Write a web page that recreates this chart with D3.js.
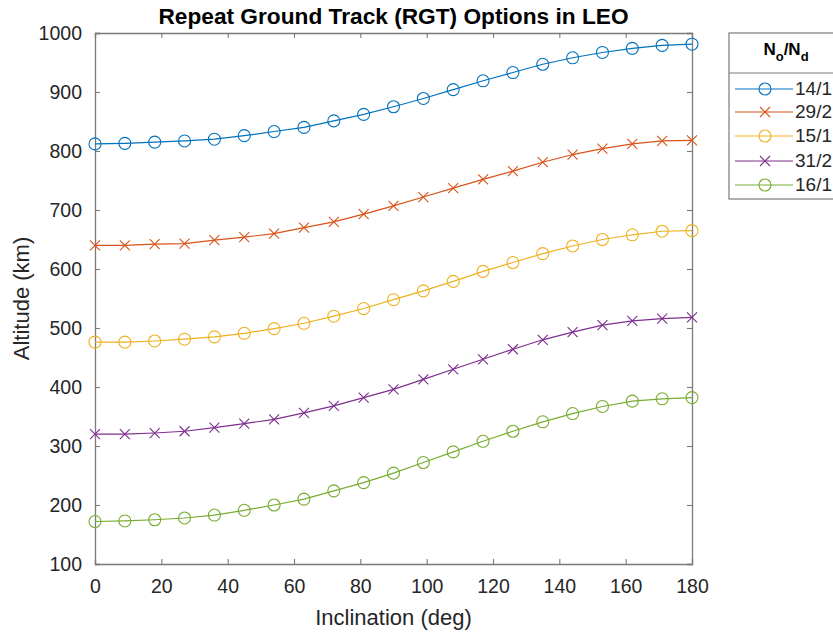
<!DOCTYPE html>
<html>
<head>
<meta charset="utf-8">
<script src="https://cdn.jsdelivr.net/npm/d3@7"></script>
<style>
  body { margin: 0; background: #fff; overflow: hidden; }
  svg { display: block; font-family: "Liberation Sans", Arial, sans-serif; }
</style>
</head>
<body>
<div id="chart"></div>
<script>
// Inclination values (deg)
const inclination = [0, 9, 18, 27, 36, 45, 54, 63, 72, 81, 90, 99, 108, 117, 126, 135, 144, 153, 162, 171, 180]

// Altitude (km) for each repeat ratio No/Nd
const alt14_1 = [812, 813, 815, 817, 820, 826, 833, 840, 851, 862, 875, 889, 904, 919, 933, 947, 958, 967, 974, 979, 981]
const alt29_2 = [640, 640, 642, 643, 649, 654, 660, 670, 680, 693, 707, 722, 737, 752, 766, 781, 794, 804, 812, 817, 818]
const alt15_1 = [476, 476, 478, 481, 485, 491, 499, 508, 520, 533, 548, 563, 579, 596, 611, 626, 639, 650, 658, 664, 665]
const alt31_2 = [320, 320, 322, 325, 331, 338, 345, 356, 368, 382, 396, 413, 430, 447, 464, 480, 493, 505, 512, 516, 518]
const alt16_1 = [172, 173, 175, 178, 183, 191, 200, 210, 224, 238, 254, 272, 290, 308, 325, 341, 355, 367, 376, 380, 382]

const seriesNames = ["14/1", "29/2", "15/1", "31/2", "16/1"]
const seriesMarkers = ["o", "x", "o", "x", "o"]
const seriesColors = ["#0072BD", "#D95319", "#EDB120", "#7E2F8E", "#77AC30"]
const seriesValues = [alt14_1, alt29_2, alt15_1, alt31_2, alt16_1]

const xTicks = [0, 20, 40, 60, 80, 100, 120, 140, 160, 180]
const yTicks = [100, 200, 300, 400, 500, 600, 700, 800, 900, 1000]

// Set dimensions
let dims = {
    width: 833,
    height: 632,
    margin: { top: 33, right: 141, bottom: 68, left: 95 },
}
dims.boundedWidth = dims.width - dims.margin.left - dims.margin.right
dims.boundedHeight = dims.height - dims.margin.top - dims.margin.bottom

const axisColor = "#7a7a7a"
const textColor = "#262626"

// Scales
const xScale = d3.scaleLinear()
    .domain([0, 180])
    .range([0, dims.boundedWidth])

const yScale = d3.scaleLinear()
    .domain([100, 1000])
    .range([dims.boundedHeight, 0])

const svg = d3.select("#chart")
    .append("svg")
    .attr("width", dims.width)
    .attr("height", dims.height)

const bounds = svg.append("g")
    .attr("transform", `translate(${dims.margin.left},${dims.margin.top})`)

// Axes (ticks inward, box on)
const xAxisBottom = d3.axisBottom(xScale).tickValues(xTicks).tickSize(-5).tickPadding(15).tickFormat(d3.format("d"))
const xAxisTop = d3.axisTop(xScale).tickValues(xTicks).tickSize(-5).tickFormat("")
const yAxisLeft = d3.axisLeft(yScale).tickValues(yTicks).tickSize(-5).tickPadding(13).tickFormat(d3.format("d"))
const yAxisRight = d3.axisRight(yScale).tickValues(yTicks).tickSize(-5).tickFormat("")

function styleAxis(g) {
    g.selectAll("path.domain").attr("stroke", axisColor).attr("stroke-width", 1.3)
    g.selectAll(".tick line").attr("stroke", axisColor).attr("stroke-width", 1.1)
    g.selectAll(".tick text")
        .attr("fill", textColor)
        .style("font-size", "19.5px")
        .style("font-family", "'Liberation Sans', Arial, sans-serif")
}

bounds.append("g")
    .attr("transform", `translate(0,${dims.boundedHeight})`)
    .call(xAxisBottom)
    .call(styleAxis)

bounds.append("g")
    .call(xAxisTop)
    .call(styleAxis)

bounds.append("g")
    .call(yAxisLeft)
    .call(styleAxis)

bounds.append("g")
    .attr("transform", `translate(${dims.boundedWidth},0)`)
    .call(yAxisRight)
    .call(styleAxis)

// Lines and markers
const lineGen = d3.line()
    .x((d, i) => xScale(inclination[i]))
    .y(d => yScale(d))

const markerR = 6

function drawMarker(g, type, color) {
    if (type === "o") {
        g.append("circle")
            .attr("r", markerR)
            .attr("fill", "none")
            .attr("stroke", color)
            .attr("stroke-width", 1.1)
    } else {
        const s = 5
        g.append("path")
            .attr("d", `M${-s},${-s}L${s},${s}M${-s},${s}L${s},${-s}`)
            .attr("fill", "none")
            .attr("stroke", color)
            .attr("stroke-width", 1.1)
    }
}

seriesValues.forEach((vals, si) => {
    const color = seriesColors[si]
    bounds.append("path")
        .datum(vals)
        .attr("d", lineGen)
        .attr("fill", "none")
        .attr("stroke", color)
        .attr("stroke-width", 1.2)

    vals.forEach((v, i) => {
        const g = bounds.append("g")
            .attr("transform", `translate(${xScale(inclination[i])},${yScale(v)})`)
        drawMarker(g, seriesMarkers[si], color)
    })
})

// Title
svg.append("text")
    .attr("x", dims.margin.left + dims.boundedWidth / 2)
    .attr("y", 24)
    .attr("text-anchor", "middle")
    .attr("fill", "#000")
    .style("font-size", "22.7px")
    .style("font-weight", "bold")
    .text("Repeat Ground Track (RGT) Options in LEO")

// Axis labels
svg.append("text")
    .attr("x", dims.margin.left + dims.boundedWidth / 2)
    .attr("y", 625)
    .attr("text-anchor", "middle")
    .attr("fill", textColor)
    .style("font-size", "22px")
    .text("Inclination (deg)")

svg.append("text")
    .attr("transform", `translate(29,${dims.margin.top + dims.boundedHeight / 2}) rotate(-90)`)
    .attr("text-anchor", "middle")
    .attr("fill", textColor)
    .style("font-size", "22px")
    .text("Altitude (km)")

// Legend
const legend = svg.append("g")
    .attr("transform", "translate(729,33)")

const legendW = 140
const legendRowY = [56, 79, 103, 128, 152]

legend.append("rect")
    .attr("x", 0)
    .attr("y", 0)
    .attr("width", legendW)
    .attr("height", 166)
    .attr("fill", "#fff")
    .attr("stroke", axisColor)
    .attr("stroke-width", 1.2)

legend.append("line")
    .attr("x1", 0)
    .attr("x2", legendW)
    .attr("y1", 40)
    .attr("y2", 40)
    .attr("stroke", axisColor)
    .attr("stroke-width", 1.2)

const header = legend.append("text")
    .attr("x", 57)
    .attr("y", 22)
    .attr("text-anchor", "middle")
    .attr("fill", "#000")
    .style("font-size", "17px")
    .style("font-weight", "bold")
header.append("tspan").text("N")
header.append("tspan").attr("dy", 6).style("font-size", "13px").text("o")
header.append("tspan").attr("dy", -6).text("/N")
header.append("tspan").attr("dy", 6).style("font-size", "13px").text("d")

seriesNames.forEach((name, si) => {
    const row = legend.append("g")
        .attr("transform", `translate(0,${legendRowY[si]})`)
    row.append("line")
        .attr("x1", 6)
        .attr("x2", 64)
        .attr("stroke", seriesColors[si])
        .attr("stroke-width", 1.2)
    const mg = row.append("g").attr("transform", "translate(36,0)")
    drawMarker(mg, seriesMarkers[si], seriesColors[si])
    row.append("text")
        .attr("x", 66)
        .attr("y", 6)
        .attr("fill", textColor)
        .style("font-size", "19px")
        .text(name)
})
</script>
</body>
</html>
